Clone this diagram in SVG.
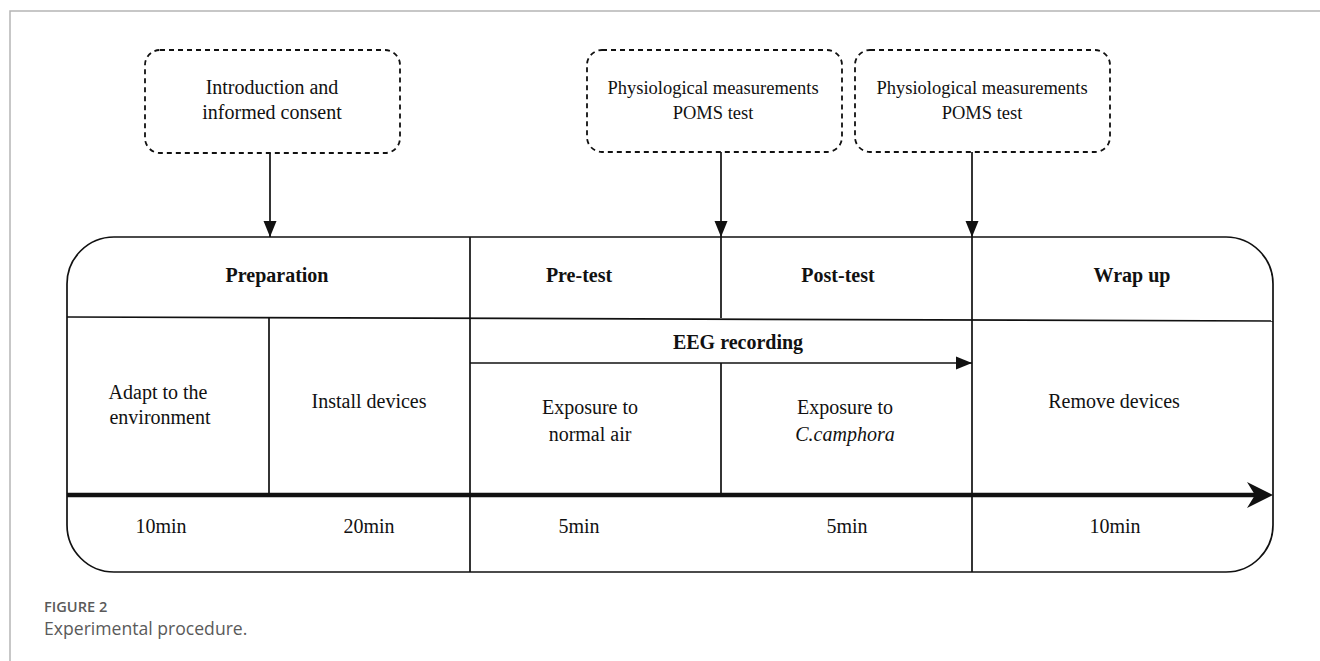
<svg xmlns="http://www.w3.org/2000/svg" width="1320" height="661" viewBox="0 0 1320 661">
<style>
.t{font-family:"Liberation Serif","Times New Roman",serif;font-size:20px;fill:#111;text-anchor:middle}
.b{font-weight:bold}
.s{font-size:18.5px}
.ln{stroke:#111;stroke-width:1.7;fill:none}
.dash{stroke:#111;stroke-width:1.8;fill:#fff;stroke-dasharray:5 4}
.cap{font-family:"Open Sans","Noto Sans",sans-serif;fill:#5a5a5a}
</style>
<defs>
<marker id="ah" markerWidth="17" markerHeight="14" refX="16" refY="7" orient="auto" markerUnits="userSpaceOnUse">
<path d="M0,0.5 L16,7 L0,13.5 Z" fill="#111"/>
</marker>
</defs>
<rect width="1320" height="661" fill="#fff"/>
<path d="M10,661 L10,11 L1320,11" fill="none" stroke="#b5b5b5" stroke-width="1.5"/>

<g id="box-intro">
<rect class="dash" x="145" y="50" width="255" height="103" rx="15"/>
<text class="t" x="272" y="94">Introduction and</text>
<text class="t" x="272" y="119">informed consent</text>
</g>
<g id="box-phys1">
<rect class="dash" x="587" y="50" width="255" height="102" rx="15"/>
<text class="t s" x="713" y="94">Physiological measurements</text>
<text class="t s" x="713" y="119">POMS test</text>
</g>
<g id="box-phys2">
<rect class="dash" x="855" y="50" width="255" height="102" rx="15"/>
<text class="t s" x="982" y="94">Physiological measurements</text>
<text class="t s" x="982" y="119">POMS test</text>
</g>

<g id="timeline-frame">
<rect class="ln" x="67" y="237" width="1206" height="335" rx="47"/>
<line class="ln" x1="67" y1="317" x2="1273" y2="321"/>
<line class="ln" x1="269" y1="317" x2="269" y2="495"/>
<line class="ln" x1="470" y1="237" x2="470" y2="572"/>
<line class="ln" x1="721" y1="237" x2="721" y2="318"/>
<line class="ln" x1="721" y1="363" x2="721" y2="495"/>
<line class="ln" x1="972" y1="237" x2="972" y2="572"/>
</g>

<g id="header">
<text class="t b" x="277" y="282">Preparation</text>
<text class="t b" x="579" y="282">Pre-test</text>
<text class="t b" x="838" y="282">Post-test</text>
<text class="t b" x="1132" y="282">Wrap up</text>
</g>

<g id="eeg">
<text class="t b" x="738" y="349">EEG recording</text>
</g>

<g id="steps">
<text class="t" x="158" y="399">Adapt to the</text>
<text class="t" x="160" y="424">environment</text>
<text class="t" x="369" y="408">Install devices</text>
<text class="t" x="590" y="414">Exposure to</text>
<text class="t" x="590" y="441">normal air</text>
<text class="t" x="845" y="414">Exposure to</text>
<text class="t" x="845" y="441" font-style="italic">C.camphora</text>
<text class="t" x="1114" y="408">Remove devices</text>
</g>

<g id="durations">
<text class="t" x="161" y="533">10min</text>
<text class="t" x="369" y="533">20min</text>
<text class="t" x="579" y="533">5min</text>
<text class="t" x="847" y="533">5min</text>
<text class="t" x="1115" y="533">10min</text>
</g>

<g id="connectors">
<line class="ln" x1="270" y1="153" x2="270" y2="237" marker-end="url(#ah)"/>
<line class="ln" x1="721" y1="152" x2="721" y2="237" marker-end="url(#ah)"/>
<line class="ln" x1="972" y1="152" x2="972" y2="237" marker-end="url(#ah)"/>
<line class="ln" x1="470" y1="363" x2="972" y2="363" marker-end="url(#ah)"/>
<line x1="67" y1="495" x2="1256" y2="495" stroke="#111" stroke-width="4.5"/>
<path d="M1273,495 L1247,482 L1255,495 L1247,508 Z" fill="#111"/>
</g>

<g id="caption">
<text class="cap" x="44" y="612" font-size="14.6" font-weight="600">FIGURE 2</text>
<text class="cap" x="44" y="635" font-size="17.6">Experimental procedure.</text>
</g>
</svg>
